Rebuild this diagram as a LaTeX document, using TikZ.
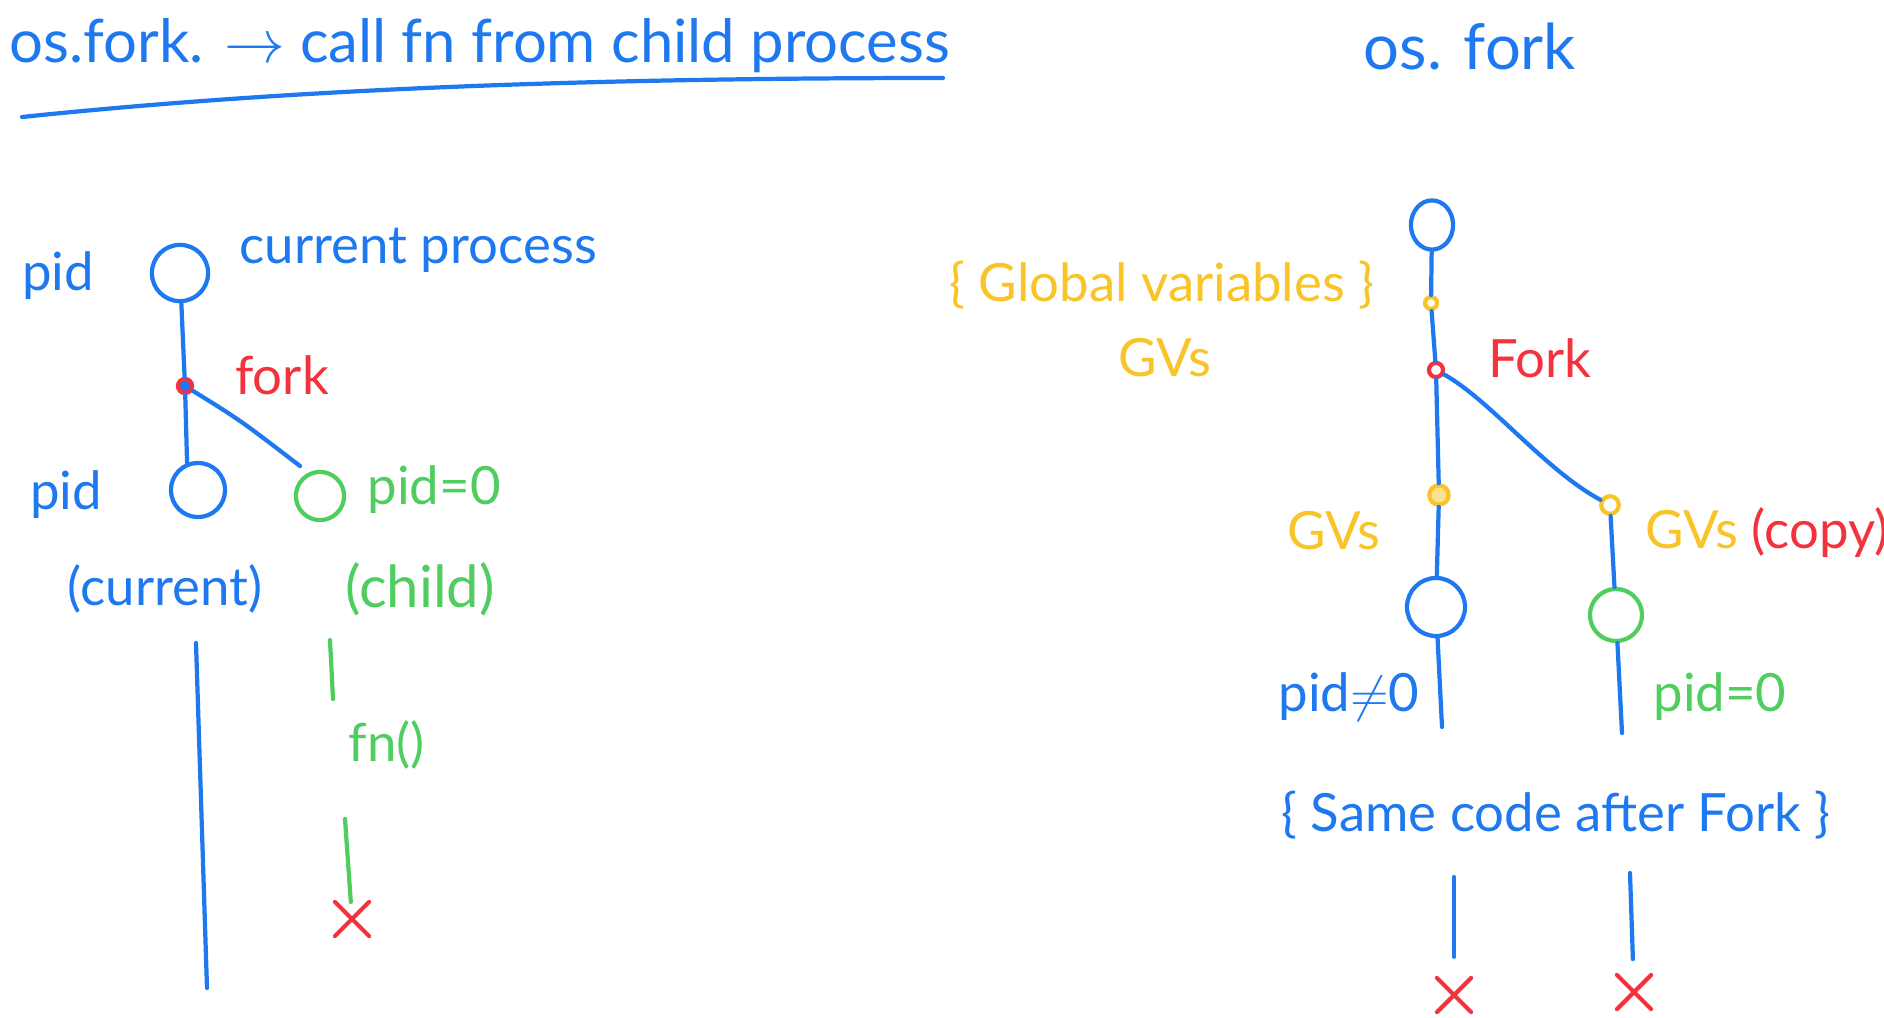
\documentclass[tikz,border=0pt]{standalone}
\usepackage{fontspec}
\setmainfont{Lato}
\usetikzlibrary{positioning, shapes.misc, shapes.geometric}
\definecolor{penblue}{RGB}{30,120,240}
\definecolor{penyellow}{RGB}{248,196,40}
\definecolor{pengreen}{RGB}{80,205,95}
\definecolor{penred}{RGB}{242,50,60}

\begin{document}
\begin{tikzpicture}[x=0.01cm, y=-0.01cm, line width=1.2pt, line cap=round,
    proc/.style={circle, draw, minimum size=#1, inner sep=0pt},
    gv/.style={circle, draw=penyellow, minimum size=#1, inner sep=0pt},
    note/.style={font=\fontsize{15}{18}\selectfont, inner sep=1pt},
    kill/.style={cross out, draw=penred, minimum size=8.5pt, inner sep=0pt}]
        \useasboundingbox (0,0) rectangle (1884,1018);

        \node[note, penblue, font=\fontsize{17}{20}\selectfont, anchor=west] (title) at (4,46) {os.fork. $\rightarrow$ call fn from child process};
        \node[note, penblue, font=\fontsize{18}{22}\selectfont] (title2) at (1470,46) {os. fork};
        \draw[penblue] (22,117) .. controls (300,88) and (600,78) .. (943,78);

        \node[proc=16pt, draw=penblue] (cur) at (180,273) {};
        \node[note, penblue] (pidA) at (58,276) {pid};
        \node[note, penblue, anchor=west] (curlbl) at (234,250) {current process};
        \node[proc=4pt, draw=penred, fill=penblue] (fk) at (185,386) {};
        \node[note, penred] (fklbl) at (282,375) {fork};
        \node[proc=15.4pt, draw=penblue] (par) at (198,490) {};
        \node[note, penblue] (pidB) at (66,495) {pid};
        \node[proc=13.7pt, draw=pengreen] (chd) at (320,496) {};
        \node[note, pengreen, anchor=west] (pid0) at (362,490) {pid=0};
        \node[note, penblue] (curtag) at (165,589) {(current)};
        \node[note, pengreen, font=\fontsize{16.5}{20}\selectfont] (chdtag) at (420,589) {(child)};
        \node[note, pengreen] (fn) at (387,745) {fn()};
        \node[kill] (endA) at (352,919) {};
        \coordinate (pa) at (196,643);
        \coordinate (pb) at (207,988);
        \coordinate (ca) at (330,640);
        \coordinate (cb) at (333,699);
        \coordinate (cc) at (345,819);

        \draw[penblue]
        (cur) -- (fk)
        (fk) -- (par.112)
        (fk) .. controls (240,420) .. (300,466)
        (pa) -- (pb);
        \draw[pengreen]
        (ca) -- (cb)
        (cc) -- (endA);

        \node[ellipse, draw=penblue, minimum width=12pt, minimum height=14pt, inner sep=0pt] (top) at (1432,225) {};
        \node[gv=3.4pt] (g0) at (1431,303) {};
        \node[note, penyellow] (gvlbl) at (1162,285) {\{ Global variables \}};
        \node[note, penyellow] (gvs0) at (1165,358) {GVs};
        \node[proc=4pt, draw=penred] (fk2) at (1436,370) {};
        \node[note, penred] (fk2lbl) at (1540,358) {Fork};
        \node[gv=5.5pt, fill=penyellow!50] (g1) at (1439,495) {};
        \node[gv=5pt] (g2) at (1610,505) {};
        \node[note, penyellow] (gvs1) at (1334,531) {GVs};
        \node[note, penyellow, anchor=west] (gvs2) at (1640,533) {GVs \textcolor{penred}{(copy)}};
        \node[proc=16.5pt, draw=penblue] (par2) at (1436,607) {};
        \node[proc=14.8pt, draw=pengreen] (chd2) at (1616,615) {};
        \node[note, penblue, anchor=east] (ne0) at (1425,697) {pid$\neq$0};
        \node[note, pengreen] (eq0) at (1720,697) {pid=0};
        \node[note, penblue] (same) at (1556,815) {\{ Same code after Fork \}};
        \node[kill] (endB) at (1454,995) {};
        \node[kill] (endC) at (1634,992) {};
        \coordinate (pe) at (1442,727);
        \coordinate (ce) at (1622,733);
        \coordinate (sa) at (1454,877);
        \coordinate (sb) at (1630,873);

        \draw[penblue]
        (top) -- (g0)
        (g0) -- (fk2)
        (fk2) -- (g1)
        (g1) -- (par2)
        (fk2) .. controls (1490,400) and (1545,470) .. (g2)
        (g2) -- (chd2)
        (par2) -- (pe)
        (chd2) -- (ce);
        \draw[penblue, shorten >=6pt] (sa) -- (endB);
        \draw[penblue, shorten >=4.5pt] (sb) -- (endC);
\end{tikzpicture}
\end{document}
